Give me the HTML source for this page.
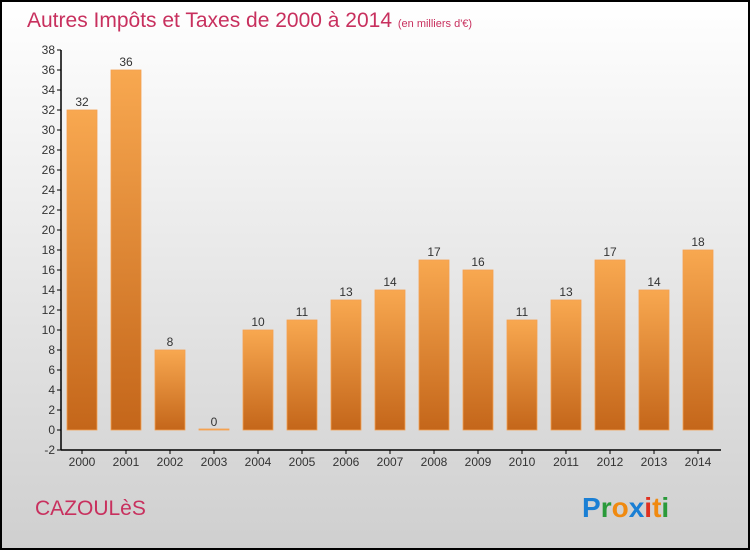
<!DOCTYPE html>
<html><head><meta charset="utf-8"><style>
body{margin:0;width:750px;height:550px;overflow:hidden}
svg{display:block;font-family:"Liberation Sans",sans-serif}
</style></head><body>
<svg id="c" width="750" height="550" xmlns="http://www.w3.org/2000/svg">
<defs>
<linearGradient id="bg" x1="0" y1="0" x2="0" y2="1"><stop offset="0" stop-color="#ffffff"/><stop offset="1" stop-color="#cfcfcf"/></linearGradient>
<linearGradient id="bar" x1="0" y1="0" x2="0" y2="1"><stop offset="0" stop-color="#f8a850"/><stop offset="1" stop-color="#c4661a"/></linearGradient>
</defs>
<rect x="1" y="1" width="748" height="548" fill="url(#bg)" stroke="#000" stroke-width="2"/>
<text x="27" y="27" font-size="21" fill="#c8305e">Autres Impôts et Taxes de 2000 à 2014 <tspan font-size="11">(en milliers d'€)</tspan></text>
<g id="axes"></g><g id="bars"></g>
<text x="35" y="515" font-size="21" fill="#c8305e">CAZOULèS</text>
<text x="582" y="517" font-size="28" font-weight="bold"><tspan fill="#1a7fd4">P</tspan><tspan fill="#2a9a3a">r</tspan><tspan fill="#f08a10">o</tspan><tspan fill="#1a7fd4">x</tspan><tspan fill="#e03020">i</tspan><tspan fill="#f08a10">t</tspan><tspan fill="#2a9a3a">i</tspan></text>
</svg>
<script>
const years=["2000","2001","2002","2003","2004","2005","2006","2007","2008","2009","2010","2011","2012","2013","2014"];
const values=[32,36,8,0,10,11,13,14,17,16,11,13,17,14,18];
const yTicks=[-2,0,2,4,6,8,10,12,14,16,18,20,22,24,26,28,30,32,34,36,38];
const NS="http://www.w3.org/2000/svg";
const y=v=>430-(v)*10;
const x=i=>82+i*44;
function mk(t,a,p,txt){const e=document.createElementNS(NS,t);for(const k in a)e.setAttribute(k,a[k]);if(txt!==undefined)e.textContent=txt;p.appendChild(e);return e;}
const ax=document.getElementById('axes'),bs=document.getElementById('bars');
let l=mk('line',{x1:61,y1:50,x2:61,y2:450,stroke:'#000','stroke-width':1.5},ax);


l=mk('line',{x1:61,y1:450,x2:721,y2:450,stroke:'#000','stroke-width':1.5},ax);


yTicks.forEach(v=>{mk('line',{x1:57,y1:y(v),x2:61,y2:y(v),stroke:'#000'},ax);
const t=mk('text',{x:55,y:y(v)+4,'font-size':12,fill:'#333','text-anchor':'end'},ax,String(v));

});
years.forEach((yr,i)=>{mk('line',{x1:x(i),y1:450,x2:x(i),y2:454,stroke:'#000'},ax);
const t=mk('text',{x:x(i),y:466,'font-size':12,fill:'#333','text-anchor':'middle'},ax,yr);


const v=values[i];const h=Math.max(1,v*10);
const r=mk('rect',{x:x(i)-15,y:y(v)-(v===0?1:0),width:30,height:h,fill:v===0?'#f8a850':'url(#bar)',stroke:'#f4a050','stroke-width':0.8},bs);


const lb=mk('text',{x:x(i),y:y(v)-4,'font-size':12,fill:'#333','text-anchor':'middle'},bs,String(v));

});
</script>
</body></html>
